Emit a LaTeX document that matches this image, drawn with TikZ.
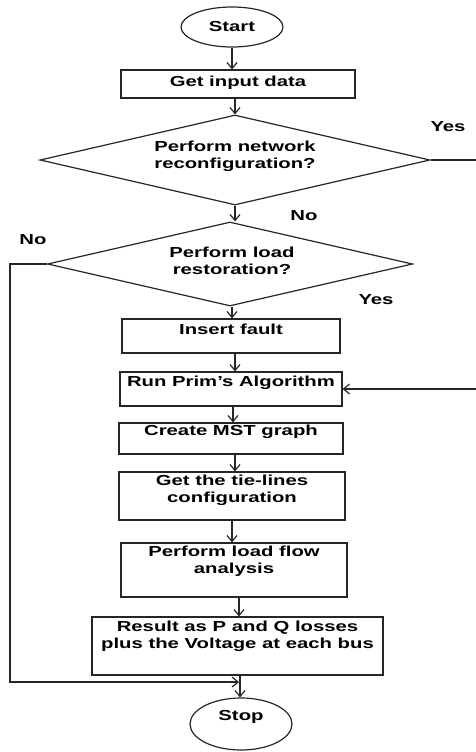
\documentclass[tikz,border=0pt]{standalone}
\usepackage{fontspec}
\setmainfont{Liberation Sans}[FakeStretch=1.4]
\usetikzlibrary{shapes.geometric,arrows.meta}
\tikzset{
  every node/.style={font=\fontsize{14.5}{17}\selectfont\bfseries},
  ln/.style={line width=1.2pt, draw=black!85},
  arr/.style={ln, -{Straight Barb[length=6pt,width=10pt,line width=1.2pt]}},
  box/.style={ln, rectangle, inner sep=0pt},
  oval/.style={ln, ellipse, inner sep=0pt},
  dia/.style={ln, diamond, inner sep=0pt},
  txt/.style={align=center, inner sep=0pt},
  lbl/.style={inner sep=0pt}
}
\begin{document}
\begin{tikzpicture}[x=1pt,y=1pt]
\useasboundingbox (0,0) rectangle (476,-752);
% nodes
\node[oval, minimum width=102, minimum height=40] (start) at (232,-27) {};
\node[txt] at (232,-27) {Start};
\node[box, minimum width=234, minimum height=28] (input) at (238,-84) {};
\node[txt] at (238,-83) {Get input data};
\node[dia, minimum width=390, minimum height=90] (d1) at (235,-160) {};
\node[txt] at (235,-156) {Perform network\\reconfiguration?};
\node[dia, minimum width=365, minimum height=84] (d2) at (230,-264) {};
\node[txt] at (232,-261) {Perform load\\restoration?};
\node[box, minimum width=218, minimum height=34] (fault) at (231,-336) {};
\node[txt] at (231,-329) {Insert fault};
\node[box, minimum width=222, minimum height=34] (prim) at (231,-389) {};
\node[txt] at (231,-383) {Run Prim’s Algorithm};
\node[box, minimum width=224, minimum height=31] (mst) at (231,-438.5) {};
\node[txt] at (231,-432) {Create MST graph};
\node[box, minimum width=226, minimum height=48] (tie) at (232,-496) {};
\node[txt] at (232,-490) {Get the tie-lines\\configuration};
\node[box, minimum width=226, minimum height=54] (flow) at (234,-570) {};
\node[txt] at (234,-561) {Perform load flow\\analysis};
\node[box, minimum width=291, minimum height=58] (result) at (237.5,-646) {};
\node[txt] at (237.5,-636) {Result as P and Q losses\\plus the Voltage at each bus};
\node[oval, minimum width=102, minimum height=52] (stop) at (241,-724) {};
\node[txt] at (241,-717) {Stop};
% labels
\node[lbl] (yes1) at (448,-127) {Yes};
\node[lbl] (no1) at (304,-216) {No};
\node[lbl] (no2) at (33,-240) {No};
\node[lbl] (yes2) at (376,-300) {Yes};
% connectors
\draw[arr] (start.south -| 232,0) -- (input.north -| 232,0);
\draw[arr] (input.south -| 235,0) -- (d1.north);
\draw[arr] (d1.south) -- (d2.north -| d1.south);
\draw[arr] (d2.south -| 232,0) -- (fault.north -| 232,0);
\draw[arr] (fault.south -| 235,0) -- (prim.north -| 235,0);
\draw[arr] (prim.south -| 233,0) -- (mst.north -| 233,0);
\draw[arr] (mst.south -| 235,0) -- (tie.north -| 235,0);
\draw[arr] (tie.south -| 232,0) -- (flow.north -| 232,0);
\draw[arr] (flow.south -| 239,0) -- (result.north -| 239,0);
\draw[arr] (result.south -| 240,0) -- (stop.north -| 240,0);
% yes loop (cropped at the right edge)
\coordinate (yesA) at (476,-160);
\coordinate (yesB) at (476,-389);
\draw[ln] (d1.east) -- (yesA);
\draw[arr] (yesB) -- (prim.east);
% no loop
\coordinate (noL) at (10,-682);
\coordinate (noE) at (239,-682);
\draw[arr] (d2.west) -| (noL) -- (noE);
\end{tikzpicture}
\end{document}
